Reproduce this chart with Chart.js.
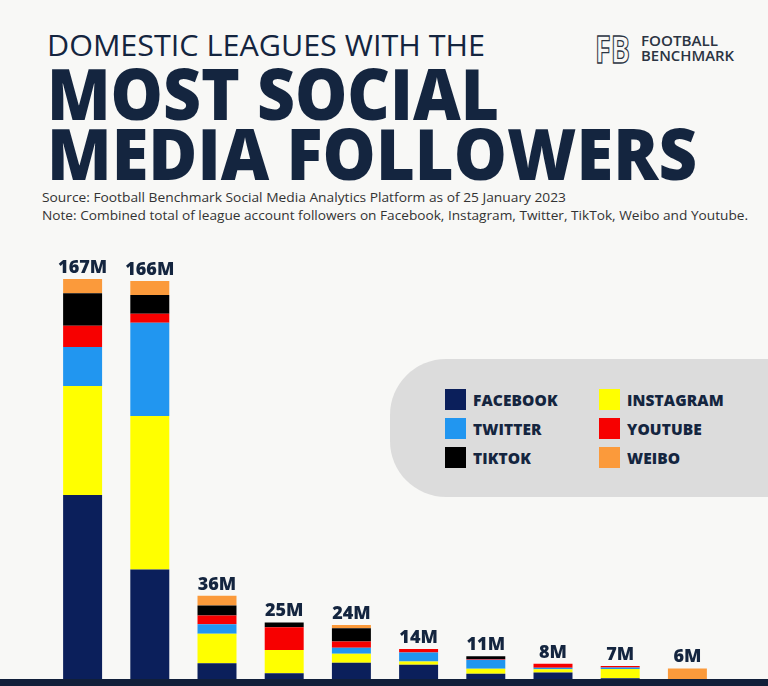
<!DOCTYPE html>
<html>
<head>
<meta charset="utf-8">
<script src="https://cdn.jsdelivr.net/npm/chart.js@4.4.1/dist/chart.umd.min.js"></script>
<style>
  html, body { margin:0; padding:0; }
  body { width:768px; height:686px; background:#f8f8f6; position:relative; overflow:hidden; font-family:"Open Sans", "Noto Sans", sans-serif; color:#14253f; }
  .t { position:absolute; white-space:nowrap; transform-origin:0 0; line-height:1; }
  #legendBox { position:absolute; left:390px; top:359px; width:400px; height:138px; background:#dcdcdc; border-radius:56px 0 0 56px; z-index:0; }
  .lg { position:absolute; display:flex; align-items:center; height:21px; }
  .lg i { display:block; width:21px; height:21px; margin-right:7px; }
  .lg span { font-weight:800; font-size:15.5px; color:#14253f; letter-spacing:0.1px; }
  #wrap { position:absolute; left:0; top:0; width:768px; height:686px; z-index:1; }
</style>
</head>
<body>
<div class="t" data-w="438" style="left:47px; top:30px; font-size:30px; font-weight:400;">DOMESTIC LEAGUES WITH THE</div>
<div class="t" data-w="452" style="left:47px; top:57px; font-size:71px; font-weight:800;">MOST SOCIAL</div>
<div class="t" data-w="650" style="left:47px; top:117px; font-size:71px; font-weight:800;">MEDIA FOLLOWERS</div>
<div class="t" data-w="524" style="left:42px; top:191px; font-size:13px; color:#333;">Source: Football Benchmark Social Media Analytics Platform as of 25 January 2023</div>
<div class="t" data-w="706" style="left:42px; top:209px; font-size:13px; color:#333;">Note: Combined total of league account followers on Facebook, Instagram, Twitter, TikTok, Weibo and Youtube.</div>

<div class="t" data-w="35" style="left:595px; top:29px; font-size:38px; font-weight:700; color:transparent; -webkit-text-stroke:1.3px #2b3442;">FB</div>
<div class="t" data-w="77" style="left:641px; top:34px; font-size:14px; font-weight:600; color:#2b3442;">FOOTBALL</div>
<div class="t" data-w="93" style="left:641px; top:49px; font-size:14px; font-weight:600; color:#2b3442;">BENCHMARK</div>

<div id="legendBox"></div>
<div id="legend"></div>

<div id="wrap"><canvas id="c"></canvas></div>

<script>
// ---- data (millions of followers) ----
const leagues = ["League 1","League 2","League 3","League 4","League 5","League 6","League 7","League 8","League 9","League 10"];
const totalLabels = ["167M","166M","36M","25M","24M","14M","11M","8M","7M","6M"];
const facebook  = [77.7, 46.9, 8.2, 4.0, 8.4, 7.5, 3.8, 4.3, 2.0, 0];
const instagram = [45.0, 63.4, 12.1, 9.6, 3.7, 1.4, 2.1, 1.4, 3.8, 0];
const twitter   = [16.1, 38.5, 4.0, 0, 2.5, 3.7, 3.7, 0.6, 0.6, 0];
const youtube   = [8.8, 3.7, 3.6, 9.4, 2.5, 1.4, 0.3, 1.7, 0.6, 0];
const tiktok    = [13.4, 7.8, 4.1, 2.0, 5.5, 0, 1.1, 0, 0, 0];
const weibo     = [5.9, 5.7, 4.0, 0, 1.4, 0, 0, 0, 0, 6.0];

const series = [
  {label:"FACEBOOK",  data:facebook,  color:"#0b1f5b"},
  {label:"INSTAGRAM", data:instagram, color:"#ffff00"},
  {label:"TWITTER",   data:twitter,   color:"#2196f0"},
  {label:"YOUTUBE",   data:youtube,   color:"#f70000"},
  {label:"TIKTOK",    data:tiktok,    color:"#000000"},
  {label:"WEIBO",     data:weibo,     color:"#fb9a3b"}
];
const legendOrder = ["FACEBOOK","INSTAGRAM","TWITTER","YOUTUBE","TIKTOK","WEIBO"];

// legend (built from series)
const lg = document.getElementById('legend');
legendOrder.forEach((name, i) => {
  const s = series.find(d => d.label === name);
  const col = i % 2, row = Math.floor(i / 2);
  const el = document.createElement('div');
  el.className = 'lg';
  el.style.left = (445 + col * 154) + 'px';
  el.style.top = (389 + row * 29) + 'px';
  el.innerHTML = '<i style="background:' + s.color + '"></i><span>' + s.label + '</span>';
  lg.appendChild(el);
});

const totalsPlugin = {
  id: 'totals',
  afterDatasetsDraw(chart) {
    const ctx = chart.ctx, y = chart.scales.y, x = chart.scales.x;
    ctx.save();
    // baseline rule
    const y0 = y.getPixelForValue(0);
    ctx.fillStyle = '#111f3a';
    ctx.fillRect(0, y0 - 4, chart.width, chart.height - (y0 - 4));
    // totals
    ctx.font = '800 18px "Open Sans", "Noto Sans", sans-serif';
    ctx.fillStyle = '#14253f';
    ctx.textAlign = 'center';
    ctx.textBaseline = 'alphabetic';
    leagues.forEach((_, i) => {
      let sum = 0;
      series.forEach(s => sum += s.data[i]);
      ctx.fillText(totalLabels[i], x.getPixelForValue(i), y.getPixelForValue(sum) - 6);
    });
    ctx.restore();
  }
};

new Chart(document.getElementById('c'), {
  type: 'bar',
  data: {
    labels: leagues,
    datasets: series.map(s => ({
      label: s.label, data: s.data, backgroundColor: s.color,
      borderWidth: 0, categoryPercentage: 1, barPercentage: 0.58
    }))
  },
  options: {
    responsive: true, maintainAspectRatio: false, animation: false,
    devicePixelRatio: 1,
    layout: { padding: { left: 49, right: 47, top: 247.2, bottom: 3 } },
    plugins: { legend: { display: false }, tooltip: { enabled: false } },
    scales: {
      x: { stacked: true, display: false },
      y: { stacked: true, display: false, min: 0, max: 180 }
    }
  },
  plugins: [totalsPlugin]
});

function fit() {
  document.querySelectorAll('[data-w]').forEach(el => {
    el.style.transform = 'none';
    const w = el.getBoundingClientRect().width;
    el.style.transform = 'scaleX(' + (parseFloat(el.dataset.w) / w) + ')';
  });
}
fit();
if (document.fonts && document.fonts.ready) document.fonts.ready.then(fit);
</script>
</body>
</html>
